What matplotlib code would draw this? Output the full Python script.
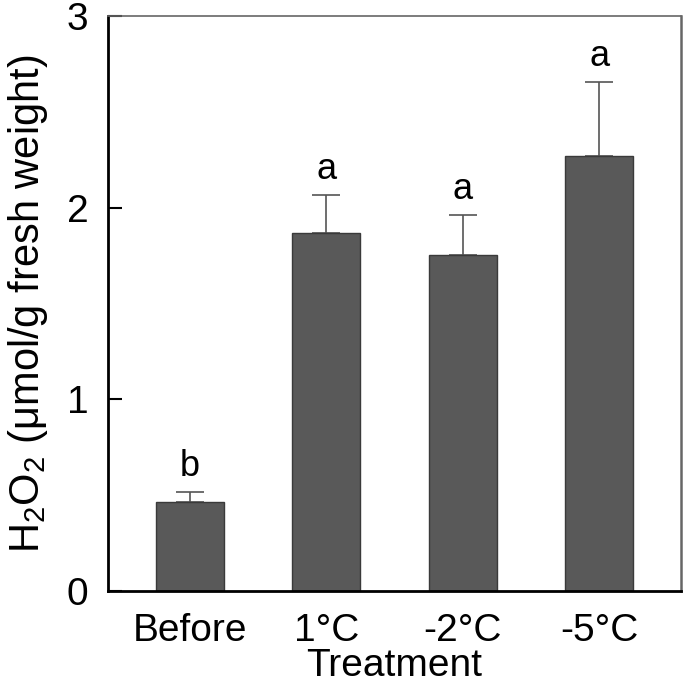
import matplotlib
matplotlib.use("Agg")
import matplotlib.pyplot as plt

plt.rcParams["font.family"] = ["Liberation Sans", "DejaVu Sans"]
plt.rcParams["mathtext.fontset"] = "custom"
plt.rcParams["mathtext.rm"] = "Liberation Sans"
plt.rcParams["mathtext.it"] = "Liberation Sans"

treatments = ["Before", "1°C", "-2°C", "-5°C"]
h2o2 = [0.465, 1.867, 1.753, 2.269]
errors = [0.052, 0.197, 0.207, 0.386]
letters = ["b", "a", "a", "a"]
yticks = [0, 1, 2, 3]


def main():
    fig = plt.figure(figsize=(6.85, 6.89), dpi=100)
    ax = fig.add_axes([0.1577, 0.1422, 0.8365, 0.8346])

    x = list(range(len(treatments)))
    ax.bar(x, h2o2, width=0.5, color="#595959", edgecolor="#3a3a3a", linewidth=1.0, zorder=2)
    ax.errorbar(x, h2o2, yerr=[[0] * len(errors), errors], fmt="none",
                ecolor="#555555", elinewidth=1.2, capsize=10, capthick=1.2, zorder=1)

    for xi, v, e, lab in zip(x, h2o2, errors, letters):
        ax.annotate(lab, (xi, v + e), xytext=(0, 6), textcoords="offset points",
                    ha="center", va="bottom", fontsize=26)

    ax.set_xlim(-0.6, 3.6)
    ax.set_ylim(0, 3)
    ax.set_xticks(x)
    ax.set_xticklabels(treatments)
    ax.set_yticks(yticks)
    ax.tick_params(axis="y", direction="in", length=10, width=1.5, pad=14, labelsize=28)
    ax.tick_params(axis="x", length=0, pad=16, labelsize=28)

    ax.spines["left"].set_linewidth(2)
    ax.spines["bottom"].set_linewidth(2)
    ax.spines["top"].set_color("#666666")
    ax.spines["top"].set_linewidth(1.2)
    ax.spines["right"].set_color("#666666")
    ax.spines["right"].set_linewidth(1.8)

    ax.set_xlabel("Treatment", fontsize=28, labelpad=-1)
    ax.set_ylabel("H$_2$O$_2$ (μmol/g fresh weight)", fontsize=30, labelpad=12)

    fig.savefig("out.png", dpi=100)


if __name__ == "__main__":
    main()
